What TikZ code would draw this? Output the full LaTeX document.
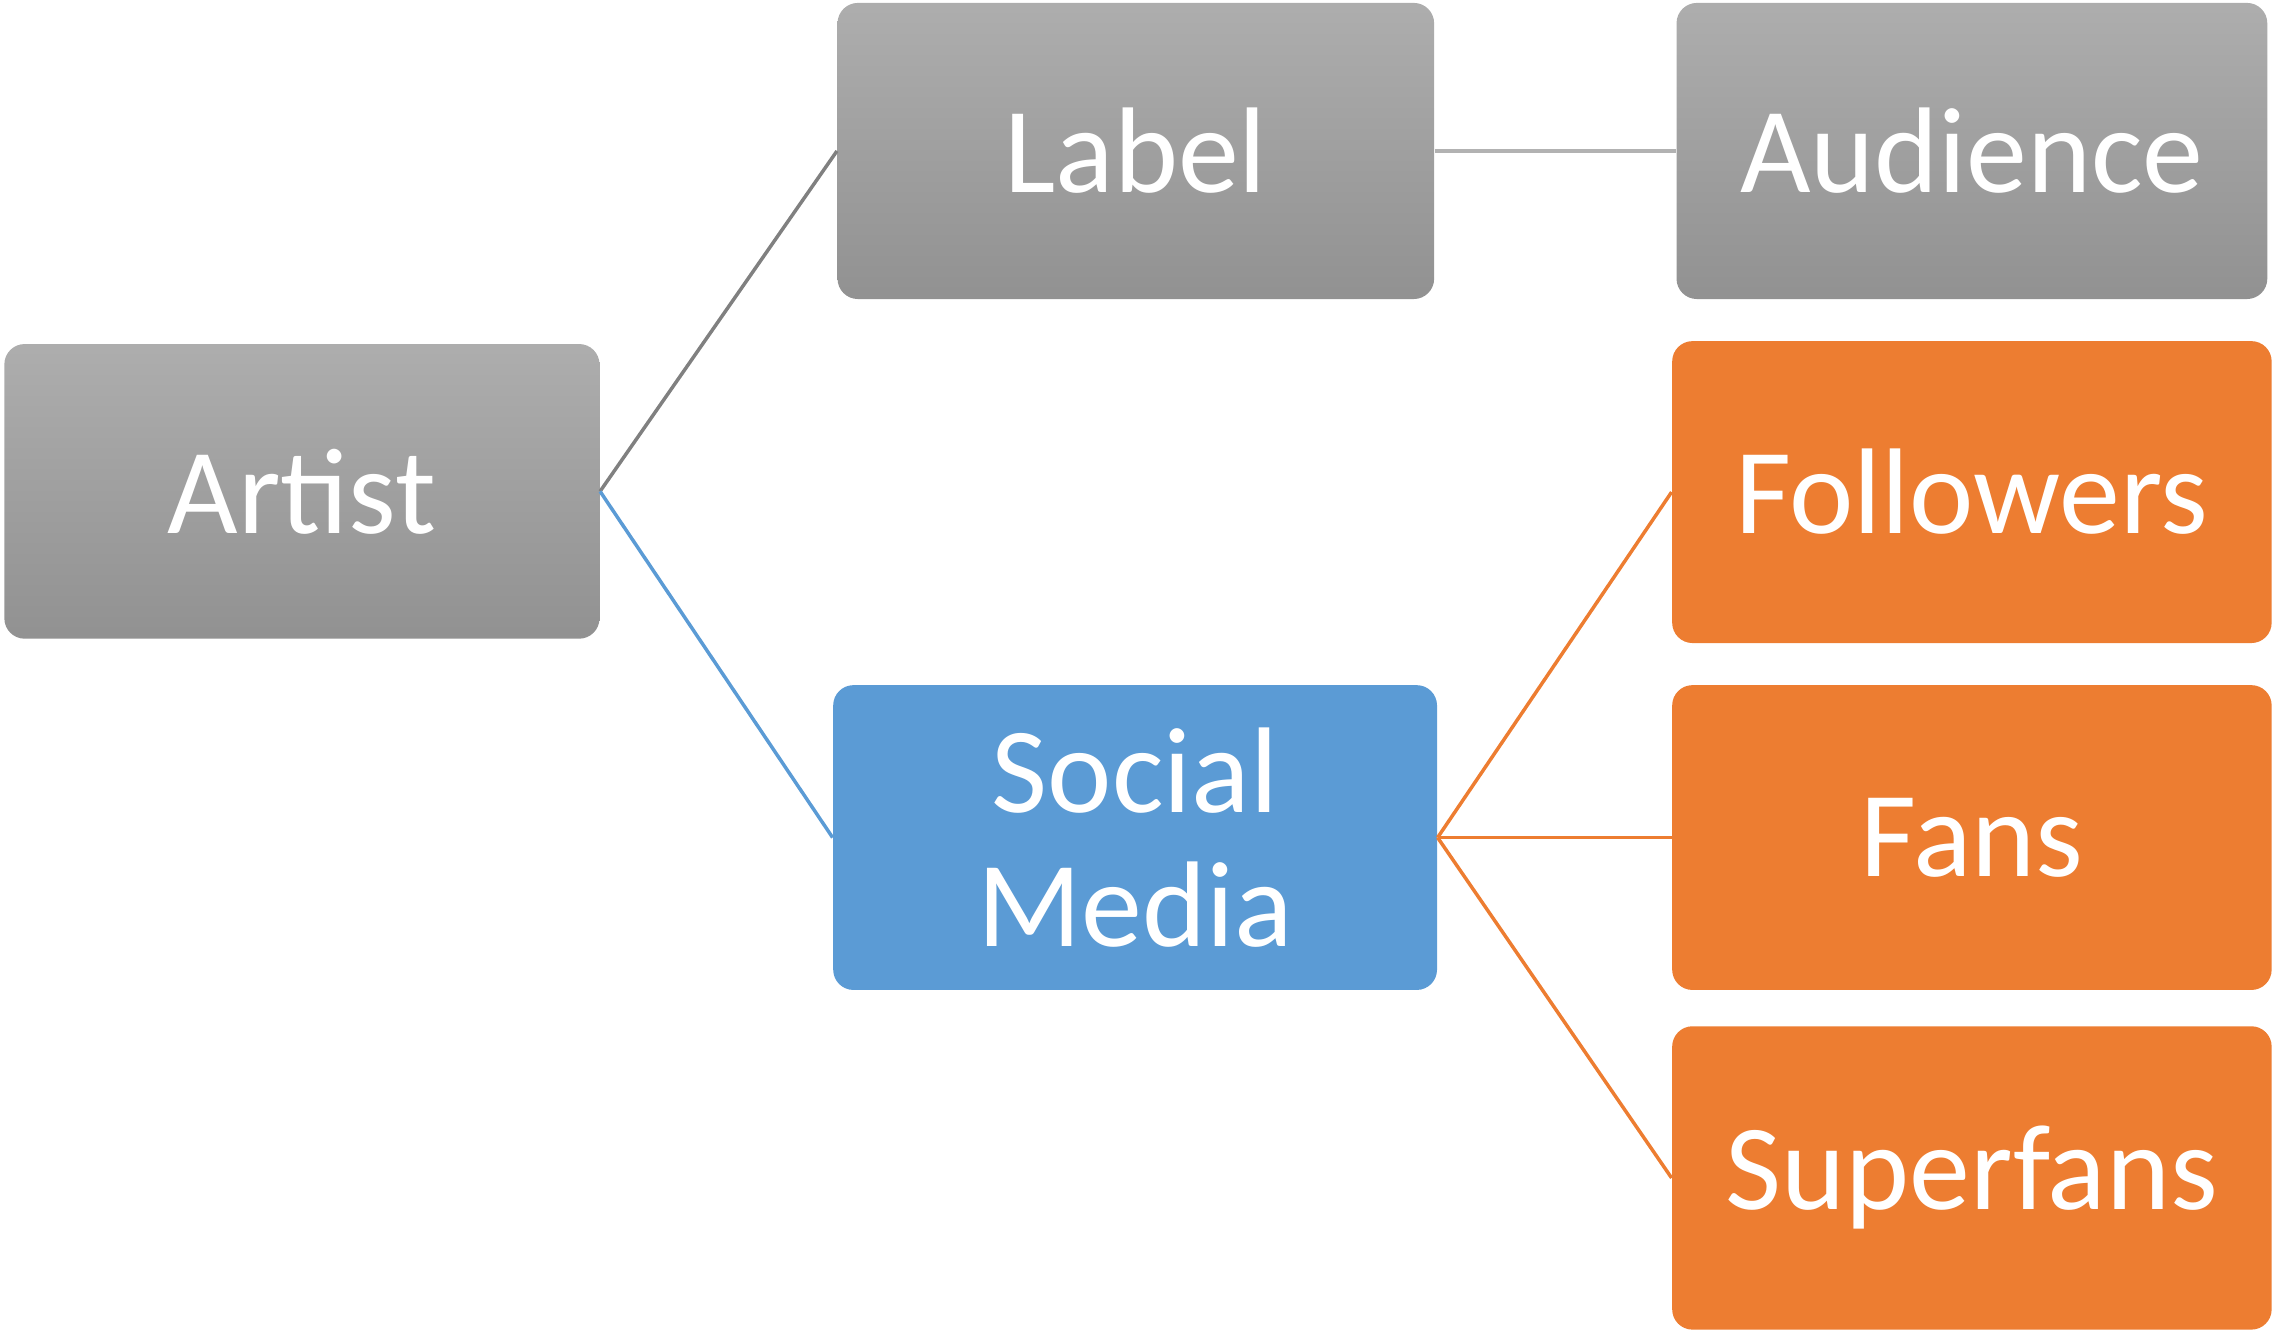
\documentclass[tikz,border=0pt]{standalone}
\usepackage{fontspec}
\setmainfont{Carlito}
\definecolor{org}{HTML}{ED7D31}
\definecolor{blu}{HTML}{5B9BD5}
\begin{document}
\begin{tikzpicture}[x=0.5pt,y=-0.5pt,
  box/.style={rounded corners=7pt,draw=none,text=white,font=\fontsize{42}{46}\selectfont,align=center,inner sep=0pt,minimum width=#1},
  gray/.style={box=#1,top color=black!32,bottom color=black!43},
  ob/.style={box=206.5pt,fill=org},
  ln/.style={line width=1.2pt}]
\useasboundingbox (0,0) rectangle (1568,918);
\node[gray=205pt,minimum height=101.5pt] (artist) at (208,338.5) {Artist};
\node[gray=205.5pt,minimum height=102pt] (label) at (782.5,104) {Label};
\node[gray=203.5pt,minimum height=102pt] (aud) at (1358.5,104) {Audience};
\node[box=208pt,fill=blu,minimum height=105pt] (sm) at (782,577) {Social\\Media};
\node[ob,minimum height=104pt] (fol) at (1358.5,339) {Followers};
\node[ob,minimum height=105pt] (fans) at (1358.5,577) {Fans};
\node[ob,minimum height=104.5pt] (sup) at (1358.5,811.5) {Superfans};
\draw[ln,black!50] (artist.east) -- (label.west);
\draw[ln,black!30] (label.east) -- (aud.west);
\draw[ln,blu] (artist.east) -- (sm.west);
\draw[ln,org] (sm.east) -- (fol.west);
\draw[ln,org] (sm.east) -- (fans.west);
\draw[ln,org] (sm.east) -- (sup.west);
\end{tikzpicture}
\end{document}
